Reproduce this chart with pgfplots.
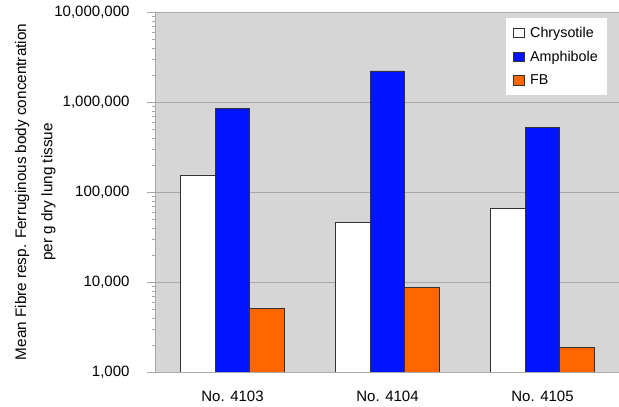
\documentclass[border=0pt]{standalone}
\usepackage{pgfplots}
\pgfplotsset{compat=1.18}
\usepackage{fontspec}
\setmainfont{Liberation Sans}
\definecolor{bgray}{HTML}{D6D6D6}
\definecolor{ggray}{HTML}{A8A8A8}
\definecolor{amph}{HTML}{0014FF}
\definecolor{fb}{HTML}{FF6600}
\begin{document}
\begin{tikzpicture}
\begin{axis}[
  at={(0pt,0pt)}, anchor=south west,
  scale only axis, width=465pt, height=360pt,
  ymode=log, log origin=infty,
  ymin=1000, ymax=10000000,
  xmin=-0.5, xmax=2.5,
  axis background/.style={fill=bgray},
  axis line style={ggray},
  axis x line*=bottom, axis y line*=left,
  ytick={1000,10000,100000,1000000,10000000},
  yticklabels={{1,000},{10,000},{100,000},{1,000,000},{10,000,000}},
  minor ytick={}, 
  ymajorgrids, grid style={ggray, line width=0.8pt},
  xtick={0,1,2}, xticklabels={No. 4103, No. 4104, No. 4105},
  major x tick style={draw=none},
  extra x ticks={0.5,1.5}, extra x tick labels={},
  extra x tick style={major tick length=6pt, tick style={ggray}, xtick align=outside},
  tick style={ggray},
  ytick align=outside, major tick length=8pt,
  yticklabel style={font=\fontsize{15}{17}\selectfont, xshift=-14pt},
  xticklabel style={font=\fontsize{15}{17}\selectfont, yshift=-8pt},
  ylabel={\shortstack{Mean Fibre resp. Ferruginous body concentration\\[9pt] per g dry lung tissue}},
  ylabel style={font=\fontsize{15.3}{17}\selectfont, yshift=-8pt},
  ybar, bar width=0.223,
  every axis plot/.append style={draw=black!80, line width=0.8pt},
  legend style={at={(0.972,0.983)}, anchor=north east, draw=none, fill=white,
    font=\fontsize{14.3}{16}\selectfont, row sep=8pt, inner xsep=7pt, inner ysep=7pt},
  legend cell align=left,
  legend image code/.code={\draw[#1, line width=0.5pt] (0pt,-4.5pt) rectangle (11pt,5pt); \path (15pt,0pt);},
]
\addplot[fill=white, bar shift=-0.223] coordinates {(0,154500) (1,46000) (2,66400)};
\addplot[fill=amph, bar shift=0] coordinates {(0,851000) (1,2210000) (2,527000)};
\addplot[fill=fb, bar shift=0.223] coordinates {(0,5100) (1,8730) (2,1860)};
\legend{Chrysotile, Amphibole, FB}
\end{axis}
\pgfresetboundingbox
\path (-155pt,-35pt) rectangle (464pt,372pt);
\end{tikzpicture}
\end{document}
